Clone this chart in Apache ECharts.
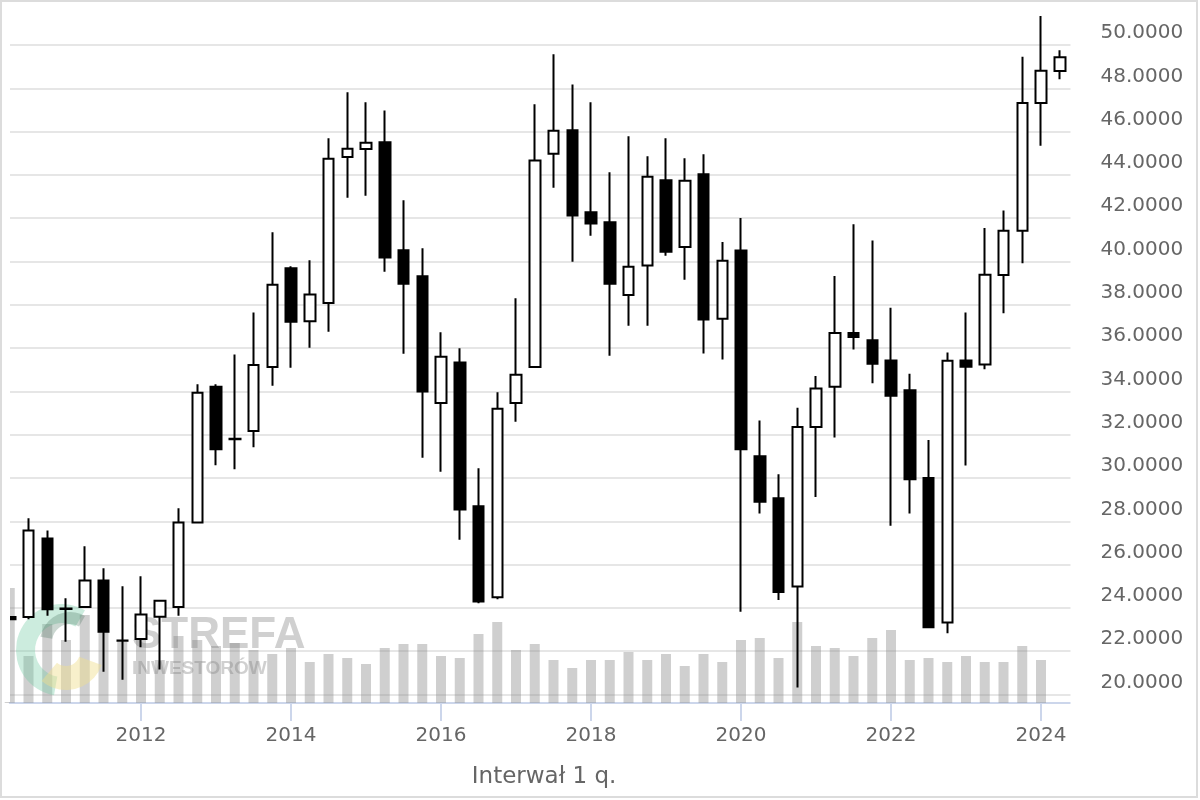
<!DOCTYPE html>
<html>
<head>
<meta charset="utf-8">
<title>Notowania kwartalne</title>
<script src="https://cdn.jsdelivr.net/npm/echarts@6.0.0/dist/echarts.min.js"></script>
<style>
  html, body { margin: 0; padding: 0; background: #fff; }
  #main { width: 1200px; height: 800px; }
</style>
</head>
<body>
<div id="main"></div>
<script>
  // kwartały, ostatni pusty (zapas z prawej strony)
  var quarters = [
    '2010 Q2', '2010 Q3', '2010 Q4',
    '2011 Q1', '2011 Q2', '2011 Q3', '2011 Q4',
    '2012 Q1', '2012 Q2', '2012 Q3', '2012 Q4',
    '2013 Q1', '2013 Q2', '2013 Q3', '2013 Q4',
    '2014 Q1', '2014 Q2', '2014 Q3', '2014 Q4',
    '2015 Q1', '2015 Q2', '2015 Q3', '2015 Q4',
    '2016 Q1', '2016 Q2', '2016 Q3', '2016 Q4',
    '2017 Q1', '2017 Q2', '2017 Q3', '2017 Q4',
    '2018 Q1', '2018 Q2', '2018 Q3', '2018 Q4',
    '2019 Q1', '2019 Q2', '2019 Q3', '2019 Q4',
    '2020 Q1', '2020 Q2', '2020 Q3', '2020 Q4',
    '2021 Q1', '2021 Q2', '2021 Q3', '2021 Q4',
    '2022 Q1', '2022 Q2', '2022 Q3', '2022 Q4',
    '2023 Q1', '2023 Q2', '2023 Q3', '2023 Q4',
    '2024 Q1', '2024 Q2', '2024 Q3'
  ];

  // lata podpisane na osi X
  var labelYears = ['2012', '2014', '2016', '2018', '2020', '2022', '2024'];

  var opens = [
    23.58, 23.58, 27.21,
    23.97, 24.04, 25.27, 22.50,
    22.56, 23.59, 24.04, 27.94,
    34.22, 31.81, 32.17, 35.13,
    39.69, 37.24, 38.08, 44.83,
    45.20, 45.51, 40.52, 39.32,
    33.46, 35.34, 28.69, 24.49,
    33.46, 35.13, 44.98, 46.06,
    42.27, 41.81, 38.45, 39.82,
    43.75, 40.67, 44.03, 37.35,
    40.51, 31.00, 29.07, 24.99,
    32.36, 34.21, 36.70, 36.36,
    35.43, 34.05, 30.00, 23.33,
    35.43, 35.24, 39.38, 41.42,
    47.32, 48.80
  ];
  var closes = [
    23.48, 27.57, 23.94,
    23.95, 25.26, 22.90, 22.48,
    23.69, 24.33, 27.94, 33.94,
    31.33, 31.79, 35.22, 38.93,
    37.22, 38.47, 44.75, 45.21,
    45.49, 40.19, 38.97, 33.99,
    35.60, 28.54, 24.29, 33.20,
    34.77, 44.66, 46.04, 42.12,
    41.75, 38.97, 39.76, 43.92,
    40.45, 43.73, 37.32, 40.04,
    31.33, 28.90, 24.74, 32.36,
    34.13, 36.70, 36.51, 35.28,
    33.80, 29.94, 23.11, 35.42,
    35.14, 39.39, 41.42, 47.32,
    48.81, 49.43
  ];
  var lows = [
    23.45, 23.47, 23.64,
    22.44, 24.00, 21.05, 20.68,
    22.18, 21.15, 23.64, 27.90,
    30.59, 30.40, 31.42, 34.26,
    35.09, 36.02, 36.76, 42.95,
    43.04, 39.53, 35.74, 30.94,
    30.29, 27.15, 24.21, 24.40,
    32.60, 35.10, 43.41, 39.99,
    41.19, 35.65, 37.03, 37.03,
    40.27, 39.16, 35.75, 35.47,
    23.82, 28.36, 24.36, 20.32,
    29.12, 31.87, 35.93, 34.38,
    27.80, 28.36, 23.10, 22.83,
    30.58, 35.02, 37.61, 39.92,
    45.35, 48.42
  ];
  var highs = [
    23.62, 28.14, 27.58,
    24.44, 26.85, 25.83, 25.00,
    25.46, 24.35, 28.60, 34.33,
    34.33, 35.71, 37.65, 41.35,
    39.78, 40.06, 45.69, 47.82,
    47.35, 46.98, 42.83, 40.61,
    36.73, 35.99, 30.45, 33.96,
    38.30, 47.26, 49.57, 48.18,
    47.35, 44.12, 45.78, 44.86,
    45.69, 44.77, 44.95, 40.90,
    42.01, 32.66, 30.17, 33.24,
    34.71, 39.33, 41.72, 40.97,
    37.86, 34.81, 31.76, 35.80,
    37.64, 41.55, 42.36, 49.46,
    51.34, 49.76
  ];

  // wolumen (jednostki umowne)
  var volumes = [
    11.5, 4.7, 7.9,
    6.3, 8.8, 7.5, 6.1,
    7.1, 4.3, 6.7, 6.3,
    5.7, 6.0, 5.3, 4.9,
    5.5, 4.1, 4.9, 4.5,
    3.9, 5.5, 5.9, 5.9,
    4.7, 4.5, 6.9, 8.1,
    5.3, 5.9, 4.3, 3.5,
    4.3, 4.3, 5.1, 4.3,
    4.9, 3.7, 4.9, 4.1,
    6.3, 6.5, 4.5, 8.1,
    5.7, 5.5, 4.7, 6.5,
    7.3, 4.3, 4.5, 4.1,
    4.7, 4.1, 4.1, 5.7,
    4.3
  ];

  var candles = opens.map(function (o, i) {
    return [o, closes[i], lows[i], highs[i]];
  });

  function isYearTick(index, value) {
    return value.slice(5) === 'Q1' && labelYears.indexOf(value.slice(0, 4)) >= 0;
  }

  var font = 'DejaVu Sans';
  var gridLeft = 9.75;
  var gridRight = 121.5;

  var myChart = echarts.init(document.getElementById('main'));

  var option = {
    animation: false,
    backgroundColor: '#ffffff',
    grid: [
      {left: gridLeft, right: gridRight, top: 1.7, bottom: 62.2},
      {left: gridLeft, right: gridRight, top: 503, bottom: 97}
    ],
    xAxis: [
      {
        gridIndex: 0,
        type: 'category',
        data: quarters,
        boundaryGap: false,
        show: false
      },
      {
        gridIndex: 1,
        type: 'category',
        data: quarters,
        boundaryGap: false,
        axisLine: {lineStyle: {color: '#ccd6eb', width: 2}},
        axisTick: {
          interval: isYearTick,
          length: 18,
          lineStyle: {color: '#ccd6eb', width: 2}
        },
        axisLabel: {
          interval: isYearTick,
          formatter: function (v) { return v.slice(0, 4); },
          color: '#666666',
          fontFamily: font,
          fontSize: 20,
          margin: 23
        },
        splitLine: {show: false},
        name: 'Interwał 1 q.',
        nameLocation: 'middle',
        nameGap: 63,
        nameTextStyle: {color: '#666666', fontFamily: font, fontSize: 23}
      }
    ],
    yAxis: [
      {
        gridIndex: 0,
        type: 'value',
        position: 'right',
        min: 18,
        max: 52,
        interval: 2,
        axisLine: {show: false},
        axisTick: {show: false},
        splitLine: {
          show: true,
          showMinLine: false,
          showMaxLine: false,
          lineStyle: {color: '#e6e6e6', width: 2}
        },
        axisLabel: {
          showMinLabel: false,
          showMaxLabel: false,
          formatter: function (v) {
            return (v < 20 || v > 50) ? '' : v.toFixed(4);
          },
          color: '#666666',
          fontFamily: font,
          fontSize: 20,
          margin: 22,
          verticalAlign: 'bottom',
          lineHeight: 20,
          padding: [0, 0, 2, 0]
        }
      },
      {
        gridIndex: 1,
        type: 'value',
        min: 0,
        max: 20,
        show: false,
        splitLine: {show: false}
      }
    ],
    series: [
      {
        name: 'Wolumen',
        type: 'bar',
        xAxisIndex: 1,
        yAxisIndex: 1,
        data: volumes,
        barWidth: 10,
        silent: true,
        z: 1,
        itemStyle: {color: 'rgba(140,140,140,0.42)'}
      },
      {
        name: 'Kurs',
        type: 'candlestick',
        xAxisIndex: 0,
        yAxisIndex: 0,
        data: candles,
        barWidth: 11,
        z: 3,
        itemStyle: {
          color: '#ffffff',
          color0: '#000000',
          borderColor: '#000000',
          borderColor0: '#000000',
          borderWidth: 2
        }
      }
    ],
    graphic: [
      // logo i znak wodny
      {
        type: 'sector', z: 2, silent: true,
        shape: {cx: 62, cy: 650, r: 46, r0: 27, startAngle: 100 * Math.PI / 180, endAngle: 300 * Math.PI / 180},
        style: {fill: 'rgba(110,200,160,0.35)'}
      },
      {
        type: 'sector', z: 2, silent: true,
        shape: {cx: 66, cy: 652, r: 38, r0: 14, startAngle: 20 * Math.PI / 180, endAngle: 130 * Math.PI / 180},
        style: {fill: 'rgba(240,222,140,0.45)'}
      },
      {
        type: 'sector', z: 2, silent: true,
        shape: {cx: 70, cy: 642, r: 30, r0: 18, startAngle: 190 * Math.PI / 180, endAngle: 300 * Math.PI / 180},
        style: {fill: 'rgba(70,110,90,0.28)'}
      },
      {
        type: 'text', z: 2, silent: true,
        x: 132, y: 614,
        style: {
          text: 'STREFA',
          font: 'bold 44px "Liberation Sans"',
          fill: 'rgba(120,120,120,0.35)'
        }
      },
      {
        type: 'text', z: 2, silent: true,
        x: 132, y: 659,
        style: {
          text: 'INWESTORÓW',
          font: 'bold 19px "Liberation Sans"',
          fill: 'rgba(120,120,120,0.35)'
        }
      },
      // obcięcie pierwszej świecy na lewej krawędzi obszaru wykresu
      {
        type: 'rect', z: 9, silent: true,
        shape: {x: 2, y: 2, width: gridLeft - 1.75, height: 700},
        style: {fill: '#ffffff'}
      },
      // linie siatki i oś kończą się na 1070 px
      {
        type: 'rect', z: 9, silent: true,
        shape: {x: 1070.5, y: 2, width: 10, height: 704},
        style: {fill: '#ffffff'}
      },
      // ramka wykresu
      {
        type: 'rect', z: 10, silent: true,
        shape: {x: 1, y: 1, width: 1196, height: 796},
        style: {fill: 'none', stroke: '#dcdcdc', lineWidth: 2}
      }
    ]
  };

  myChart.setOption(option);
</script>
</body>
</html>
